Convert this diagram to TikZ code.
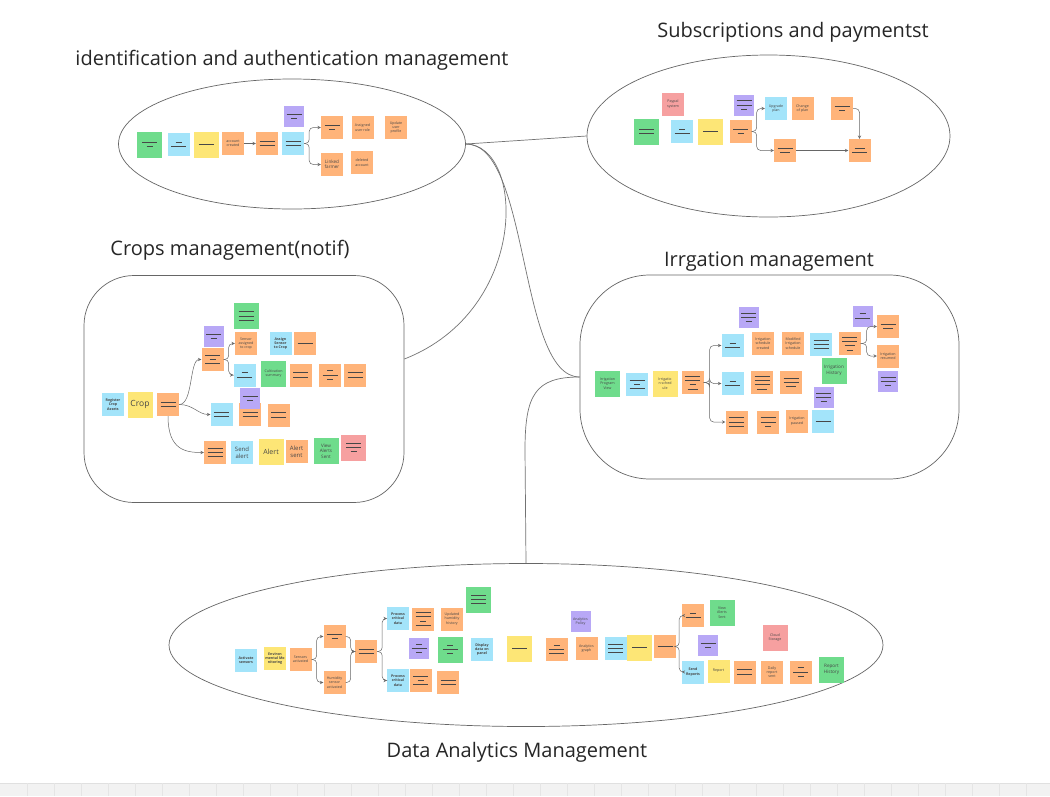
\documentclass[tikz,border=0pt]{standalone}
\usepackage{fontspec}
\setmainfont{Open Sans}
\usetikzlibrary{shapes.geometric,arrows}
\definecolor{ngreen}{HTML}{6FDC8C}
\definecolor{nblue}{HTML}{A3E4FA}
\definecolor{nyellow}{HTML}{FDE676}
\definecolor{norange}{HTML}{FFB47A}
\definecolor{npurple}{HTML}{B8A8F6}
\definecolor{npink}{HTML}{F6A0A0}
\newcommand\lnL{\rule{15pt}{0.8pt}}
\newcommand\lnM{\rule{10pt}{0.8pt}}
\newcommand\lnS{\rule{6pt}{0.8pt}}
\tikzset
{
    note/.style   = {fill=#1, minimum width=22pt, minimum height=23pt, inner sep=0.5pt, align=center, text=black!72, font=\fontsize{3.6}{4.3}\selectfont},
    wide/.style   = {minimum width=25pt, minimum height=26pt},
    small/.style  = {minimum width=20pt, minimum height=21pt},
    medtxt/.style = {font=\fontsize{4.6}{5.4}\selectfont},
    bigtxt/.style = {font=\fontsize{6}{7}\selectfont},
    title/.style  = {font=\fontsize{20}{24}\selectfont, text=black!85},
    area/.style   = {draw=black!60, line width=0.7pt, inner sep=0pt},
    group/.style  = {draw=black!55, line width=0.7pt},
    arrow/.style  = {draw=black!60, line width=0.5pt, ->, >=stealth},
    elbow/.style  = {arrow, rounded corners=4pt}
}
\begin{document}
\begin{tikzpicture}[x=1pt, y=-1pt]
	\fill [white] (0,0) rectangle (1050,796);
	\useasboundingbox (0,0) rectangle (1050,796);

	\node (gAuth) [area, ellipse, minimum width=347pt, minimum height=130pt] at (292,144) {};
	\node (gSubs) [area, ellipse, minimum width=363pt, minimum height=162pt] at (768.5,136) {};
	\node (gCrop) [area, rounded corners=50pt, minimum width=320pt, minimum height=227pt] at (244,389) {};
	\node (gIrr) [area, rounded corners=70pt, minimum width=379pt, minimum height=204pt] at (769.5,377) {};
	\node (gData) [area, ellipse, minimum width=714pt, minimum height=163pt] at (526,645) {};

	\node (tAuth) [title] at (292,60) {identification and authentication management};
	\node (tSubs) [title] at (793,32) {Subscriptions and paymentst};
	\node (tCrop) [title] at (230,250) {Crops management(notif)};
	\node (tIrr) [title] at (769,262) {Irrgation management};
	\node (tData) [title] at (517,752) {Data Analytics Management};

	\draw [group] (gAuth.east) -- (gSubs.west);
	\draw [group] (gAuth.east) .. controls (525,145) and (530,310) .. ([yshift=30pt]gCrop.east);
	\draw [group] (gAuth.east) .. controls (530,143) and (518,377) .. (gIrr.west);
	\draw [group] (gIrr.west) .. controls (535,377) and (525,395) .. (525,450) -- (gData.north);

	\node (a1) [note=ngreen, wide] at (149.5,144.5) {\lnL\\\lnS};
	\node (a2) [note=nblue] at (178.5,144.5) {\lnS\\\lnL};
	\node (a3) [note=nyellow, wide] at (206,144.5) {\lnL};
	\node (a4) [note=norange] at (233,143.5) {account\\created};
	\node (a5) [note=norange] at (267,143.5) {\lnL\\\lnL};
	\node (a6) [note=nblue] at (293,143.5) {\lnL\\\lnL};
	\node (a7) [note=npurple, small] at (294,116.5) {\lnL\\\lnS};
	\node (a8) [note=norange] at (332,127.5) {\lnL\\\lnS};
	\node (a9) [note=norange] at (362.5,127.5) {Assigned\\user role};
	\node (a10) [note=norange] at (396,127.5) {Update\\user\\profile};
	\node (a11) [note=norange, medtxt] at (332,164.5) {Linked\\farmer};
	\node (a12) [note=norange] at (362,162.5) {deleted\\account};

	\draw [arrow] (a4) -- (a5);
	\draw [elbow] (a6.east) -- ++(5,0) |- (a8.west);
	\draw [elbow] (a6.east) -- ++(5,0) |- (a11.west);

	\node (s1) [note=npink] at (673,104) {Paypal\\system};
	\node (s2) [note=ngreen, wide] at (646.5,131.5) {\lnL\\\lnL};
	\node (s3) [note=nblue] at (682,131.5) {\lnS\\\lnL};
	\node (s4) [note=nyellow, wide] at (710.5,131.5) {\lnL};
	\node (s5) [note=npurple, small] at (744,105) {\lnL\\\lnL\\\lnS};
	\node (s6) [note=norange] at (740.5,131.5) {\lnL\\\lnS};
	\node (s7) [note=nblue] at (776,108.5) {Upgrade\\plan};
	\node (s8) [note=norange] at (802.5,108.5) {Change\\of plan};
	\node (s9) [note=norange] at (842,108.5) {\lnL\\\lnS};
	\node (s10) [note=norange] at (785,150.5) {\lnL\\\lnM};
	\node (s11) [note=norange] at (859.5,150.5) {\lnM\\\lnL};

	\draw [elbow] (s6.east) -- ++(5,0) |- (s7.west);
	\draw [elbow] (s6.east) -- ++(5,0) |- (s10.west);
	\draw [arrow] (s10) -- (s11);
	\draw [elbow] (s9.east) -| (s11.north);

	\node (c1) [note=nblue] at (113,404.5) {\textbf{Register}\\\textbf{Crop}\\\textbf{Assets}};
	\node (c2) [note=nyellow, wide, font=\fontsize{8.5}{9}\selectfont] at (140,404.5) {Crop};
	\node (c3) [note=norange] at (168,404.5) {\lnL\\\lnL};
	\node (c4) [note=norange] at (212.5,359.5) {\lnL\\\lnS\\\lnL};
	\node (c5) [note=npurple, small] at (213.5,336.5) {\lnL\\\lnS};
	\node (c6) [note=ngreen, wide] at (246,316) {\lnL\\\lnL\\\lnL};
	\node (c7) [note=norange] at (246,343.5) {Sensor\\assigned\\to crop};
	\node (c8) [note=nblue] at (280.5,343.5) {\textbf{Assign}\\\textbf{Sensor}\\\textbf{to Crop}};
	\node (c9) [note=norange] at (305,343.5) {\lnL};
	\node (c10) [note=nblue] at (244.5,375) {\lnS\\\lnL};
	\node (c11) [note=ngreen, wide] at (273.5,373.5) {Cultivation\\summary};
	\node (c12) [note=norange] at (300.5,375) {\lnL\\\lnL};
	\node (c13) [note=norange] at (330,375) {\lnS\\\lnL\\\lnS};
	\node (c14) [note=norange] at (355,375) {\lnL\\\lnL};
	\node (c15) [note=nblue] at (221.5,414.5) {\lnL\\\lnL};
	\node (c17) [note=norange] at (250,414.5) {\lnL\\\lnL};
	\node (c16) [note=npurple, small] at (250,398.5) {\lnL\\\lnS};
	\node (c18) [note=norange] at (278.5,415) {\lnL\\\lnL};
	\node (c19) [note=norange] at (215,452.5) {\lnL\\\lnL\\\lnL};
	\node (c20) [note=nblue, bigtxt] at (242,452.5) {Send\\alert};
	\node (c21) [note=nyellow, wide, font=\fontsize{7}{8}\selectfont] at (271,451.5) {Alert};
	\node (c22) [note=norange, bigtxt] at (296.5,451.5) {Alert\\sent};
	\node (c23) [note=ngreen, wide, medtxt] at (326,451) {View\\Alerts\\Sent};
	\node (c24) [note=npink, wide] at (353.5,447.5) {\lnL\\\lnL\\\lnS};

	\draw [arrow] (c3.east) .. controls +(14,0) and +(-12,0) .. (c4.west);
	\draw [arrow] (c3.east) .. controls +(14,0) and +(-12,0) .. (c15.west);
	\draw [elbow] (c4.east) -- ++(5,0) |- (c7.west);
	\draw [elbow] (c4.east) -- ++(5,0) |- (c10.west);
	\draw [arrow] (c3.south) .. controls +(0,34) and +(-18,0) .. (c19.west);

	\node (r1) [note=ngreen, wide] at (607.5,383.5) {Irrigation\\Program\\View};
	\node (r2) [note=nblue] at (637,384.5) {\lnL\\\lnS\\\lnL};
	\node (r3) [note=nyellow, wide] at (665,383.5) {Irrigatio\\n sched\\ule};
	\node (r4) [note=norange] at (692.5,382.5) {\lnL\\\lnL\\\lnS\\\lnM};
	\node (r5) [note=nblue] at (732.5,345.5) {\lnS\\\lnL};
	\node (r6) [note=npurple, small] at (748.5,317.5) {\lnL\\\lnL\\\lnS};
	\node (r7) [note=norange] at (763,343.5) {Irrigation\\schedule\\created};
	\node (r8) [note=norange] at (793,343.5) {Modified\\Irrigation\\schedule};
	\node (r9) [note=nblue] at (821,344.5) {\lnL\\\lnL\\\lnL};
	\node (r10) [note=norange] at (849.5,343.5) {\lnL\\\lnL\\\lnM\\\lnS};
	\node (r11) [note=npurple, small] at (862.5,316) {\lnS\\\lnL};
	\node (r12) [note=norange] at (888,326.5) {\lnL\\\lnM};
	\node (r13) [note=norange] at (888,356) {Irrigation\\resumed};
	\node (r14) [note=npurple, small] at (888,381.5) {\lnL\\\lnL\\\lnS};
	\node (r15) [note=ngreen, wide, medtxt] at (834,370.5) {Irrigation\\History};
	\node (r16) [note=nblue] at (732.5,383.5) {\lnS\\\lnL};
	\node (r17) [note=norange] at (762,382.5) {\lnL\\\lnL\\\lnL\\\lnM};
	\node (r18) [note=norange] at (791,382.5) {\lnL\\\lnL\\\lnM};
	\node (r19) [note=npurple, small] at (823.5,397.5) {\lnL\\\lnL\\\lnS};
	\node (r20) [note=nblue] at (823,421) {\lnL};
	\node (r21) [note=norange] at (736.5,422) {\lnL\\\lnL\\\lnL};
	\node (r22) [note=norange] at (768,422) {\lnL\\\lnL\\\lnS};
	\node (r23) [note=norange] at (797,421) {Irrigation\\paused};

	\draw [elbow] (r4.east) -- ++(6,0) |- (r5.west);
	\draw [elbow] (r4.east) -- ++(6,0) |- (r16.west);
	\draw [elbow] (r4.east) -- ++(6,0) |- (r21.west);
	\draw [elbow] (r10.east) -- ++(6,0) |- (r12.west);
	\draw [elbow] (r10.east) -- ++(6,0) |- (r13.west);

	\node (d1) [note=nblue] at (246,660) {\textbf{Activate}\\\textbf{sensors}};
	\node (d2) [note=nyellow] at (275,658.5) {\textbf{Environ}\\\textbf{mental Mo}\\\textbf{nitoring}};
	\node (d3) [note=norange] at (300.5,659.5) {Sensors\\activated};
	\node (d4) [note=norange] at (334.5,636.5) {\lnL\\\lnS};
	\node (d5) [note=norange] at (334.5,682.5) {Humidity\\sensor\\activated};
	\node (d6) [note=norange] at (366,651.5) {\lnL\\\lnL};
	\node (d7) [note=nblue] at (398,618.5) {\textbf{Process}\\\textbf{critical}\\\textbf{data}};
	\node (d8) [note=norange] at (423,619) {\lnL\\\lnL\\\lnS\\\lnL};
	\node (d9) [note=norange] at (452,619) {Updated\\humidity\\history};
	\node (d10) [note=ngreen, wide] at (478.5,599.5) {\lnL\\\lnL\\\lnL};
	\node (d11) [note=npurple, small] at (419,648.5) {\lnS\\\lnL\\\lnS};
	\node (d12) [note=ngreen, wide] at (450,649.5) {\lnS\\\lnL\\\lnS};
	\node (d13) [note=nblue] at (482,649.5) {\textbf{Display}\\\textbf{data on}\\\textbf{panel}};
	\node (d14) [note=nyellow, wide] at (519.5,648.5) {\lnL};
	\node (d15) [note=nblue] at (398,680.5) {\textbf{Process}\\\textbf{critical}\\\textbf{data}};
	\node (d16) [note=norange] at (420.5,680.5) {\lnL\\\lnS\\\lnL};
	\node (d17) [note=norange] at (448,682.5) {\lnL\\\lnL};
	\node (d18) [note=norange] at (556.5,649.5) {\lnS\\\lnL\\\lnL};
	\node (d19) [note=npurple, small] at (580.5,621.5) {Analytics\\Policy};
	\node (d20) [note=norange] at (586.5,648.5) {Analytics\\graph};
	\node (d21) [note=nblue] at (615.5,648.5) {\lnL\\\lnL\\\lnL};
	\node (d22) [note=nyellow, wide] at (639.5,647.5) {\lnL};
	\node (d23) [note=norange] at (665,646.5) {\lnL};
	\node (d24) [note=norange] at (693,615.5) {\lnS\\\lnL};
	\node (d25) [note=ngreen, wide] at (722,612.5) {View\\Alerts\\Sent};
	\node (d26) [note=npurple, small] at (708,645.5) {\lnL\\\lnS};
	\node (d27) [note=npink, wide] at (775,637.5) {Cloud\\Storage};
	\node (d28) [note=nblue] at (693,672) {\textbf{Send}\\\textbf{Reports}};
	\node (d29) [note=nyellow] at (718.5,671) {Report};
	\node (d30) [note=norange] at (744.5,672) {\lnL\\\lnL};
	\node (d31) [note=norange] at (772,672) {Daily\\report\\sent};
	\node (d32) [note=norange] at (800.5,672) {\lnS\\\lnL\\\lnS};
	\node (d33) [note=ngreen, wide, medtxt] at (831.5,669.5) {Report\\History};

	\draw [elbow] (d3.east) -- ++(5,0) |- (d4.west);
	\draw [elbow] (d3.east) -- ++(5,0) |- (d5.west);
	\draw [elbow] (d4.east) -- ++(5,0) |- (d6.west);
	\draw [elbow] (d5.east) -- ++(5,0) |- (d6.west);
	\draw [elbow] (d6.east) -- ++(5,0) |- (d7.west);
	\draw [elbow] (d6.east) -- ++(5,0) |- (d15.west);
	\draw [elbow] (d23.east) -- ++(3,0) |- (d24.west);
	\draw [elbow] (d23.east) -- ++(3,0) |- (d28.west);

	\fill [black!5] (0,783) rectangle (1050,796);
	\draw [black!12] (0,783) -- (1050,783);
	\foreach \x in {27,54,...,1050}
		\draw [black!10] (\x,783) -- (\x,796);
\end{tikzpicture}
\end{document}
